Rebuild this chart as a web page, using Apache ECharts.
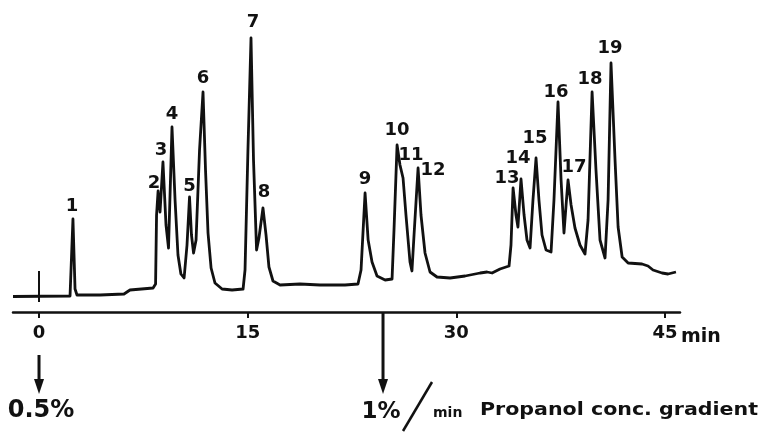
<!DOCTYPE html>
<html>
<head>
<meta charset="utf-8">
<script src="https://cdn.jsdelivr.net/npm/echarts@6/dist/echarts.min.js"></script>
<style>
  html, body { margin: 0; padding: 0; background: #ffffff; }
  #chart { width: 766px; height: 436px; }
</style>
</head>
<body>
<div id="chart"></div>
<script>
// Chromatogram trace: retention time (min) and detector response (arbitrary units)
const traceTime = [
  -1.87, 2.23, 2.34, 2.44, 2.59, 2.73, 4.39, 6.11, 6.54, 8.20,
  8.38, 8.45, 8.56, 8.70, 8.91, 9.13, 9.31, 9.56, 9.78, 9.99,
  10.20, 10.43, 10.64, 10.82, 10.96, 11.11, 11.29, 11.54, 11.79, 11.97,
  12.15, 12.37, 12.65, 13.16, 13.88, 14.67, 14.81, 15.02, 15.24, 15.42,
  15.64, 15.81, 16.10, 16.32, 16.53, 16.82, 17.33, 18.76, 20.20, 22.00,
  22.93, 23.15, 23.44, 23.66, 23.94, 24.30, 24.88, 25.38, 25.52, 25.74,
  25.95, 26.17, 26.38, 26.67, 26.81, 26.96, 27.25, 27.46, 27.75, 28.11,
  28.61, 29.55, 30.63, 31.71, 32.21, 32.57, 33.14, 33.79, 33.93, 34.08,
  34.29, 34.43, 34.65, 34.87, 35.08, 35.30, 35.51, 35.73, 35.94, 36.16,
  36.45, 36.81, 37.02, 37.31, 37.53, 37.74, 37.89, 38.03, 38.25, 38.53,
  38.89, 39.25, 39.47, 39.76, 40.04, 40.33, 40.69, 40.91, 41.12, 41.41,
  41.63, 41.92, 42.35, 43.35, 43.78, 44.14, 44.79, 45.22, 45.79
];
const traceSignal = [
  -0.2, 0.0, 0.8, 30.8, 2.8, 0.4, 0.4, 0.8, 2.4, 3.2,
  4.8, 32.4, 42.0, 33.6, 53.6, 28.4, 19.2, 67.6, 38.4, 16.4,
  8.8, 7.2, 20.4, 39.6, 24.4, 17.2, 22.4, 58.4, 81.6, 50.4,
  25.2, 11.2, 5.2, 2.8, 2.4, 2.8, 10.4, 58.4, 103.2, 54.4,
  18.4, 23.2, 35.2, 24.4, 11.6, 6.0, 4.4, 4.8, 4.4, 4.4,
  4.8, 10.4, 41.2, 22.4, 13.6, 8.0, 6.4, 6.8, 26.4, 60.4,
  52.4, 47.2, 32.4, 13.6, 10.0, 24.4, 51.2, 32.4, 17.2, 9.6,
  7.6, 7.2, 8.0, 9.2, 9.6, 9.2, 10.8, 12.0, 20.4, 43.2,
  32.4, 27.6, 46.8, 32.4, 22.4, 19.2, 38.4, 55.2, 38.4, 24.4,
  18.4, 17.6, 38.4, 77.6, 46.4, 25.2, 36.4, 46.4, 36.4, 27.2,
  20.4, 16.8, 30.4, 81.6, 50.4, 22.4, 15.2, 38.4, 93.2, 54.4,
  27.6, 15.6, 13.2, 12.8, 12.0, 10.4, 9.2, 8.8, 9.6
];

// Numbered peaks (apex time and response)
const peakNames = ['1','2','3','4','5','6','7','8','9','10','11','12','13','14','15','16','17','18','19'];
const peakTime = [2.44, 8.56, 8.91, 9.56, 10.82, 11.79, 15.24, 16.10, 23.44, 25.74,
                  26.17, 27.25, 34.08, 34.65, 35.73, 37.31, 38.03, 39.76, 41.12];
const peakSignal = [30.8, 42.0, 53.6, 67.6, 39.6, 81.6, 103.2, 35.2, 41.2, 60.4,
                    47.2, 51.2, 43.2, 46.8, 55.2, 77.6, 46.4, 81.6, 93.2];

// Time axis ticks (min)
const timeTicks = [0, 15, 30, 45];

// Injection mark and gradient programme steps
const injectionTime = 0;
const gradientTime = [0, 24.73];
const gradientText = ['0.5%', '1%'];

// Label placement around each apex, in pixels
const labelShift = [
  [-1, -13], [-4, -8], [-2, -12], [0, -13], [0, -11], [0, -14], [2, -16], [1, -16],
  [0, -14], [0, -15], [8, -23], [15, 2], [-6, -10], [-3, -21], [-1, -20], [-2, -10],
  [6, -13], [-2, -13], [-1, -15]
];

const ink = '#111111';
const boldFont = 'DejaVu Sans';

const chart = echarts.init(document.getElementById('chart'), null, { renderer: 'canvas' });

chart.setOption({
  animation: false,
  backgroundColor: '#ffffff',
  grid: { left: 13, right: 86, top: 30, bottom: 124 },
  xAxis: {
    type: 'value',
    min: -1.87,
    max: 46.08,
    axisLine: { show: true, onZero: false, lineStyle: { color: ink, width: 2.5 } },
    axisTick: { show: true, customValues: timeTicks, length: 6, lineStyle: { color: ink, width: 2 } },
    axisLabel: {
      show: true, customValues: timeTicks, margin: 12,
      color: ink, fontFamily: boldFont, fontWeight: 'bold', fontSize: 18
    },
    splitLine: { show: false }
  },
  yAxis: {
    type: 'value',
    min: -6.4,
    max: 106.4,
    show: false,
    splitLine: { show: false }
  },
  series: [
    {
      type: 'line',
      data: traceTime.map((t, i) => [t, traceSignal[i]]),
      symbol: 'none',
      smooth: false,
      lineStyle: { color: ink, width: 2.8, join: 'round' },
      z: 3
    },
    {
      type: 'line',
      data: [[injectionTime, -2.4], [injectionTime, 10.0]],
      symbol: 'none',
      lineStyle: { color: ink, width: 2 },
      z: 2
    },
    {
      type: 'scatter',
      data: peakTime.map((t, i) => ({
        value: [t, peakSignal[i]],
        name: peakNames[i],
        label: { offset: labelShift[i] }
      })),
      symbolSize: 1,
      itemStyle: { color: 'rgba(0,0,0,0)', opacity: 1 },
      label: {
        show: true,
        position: 'inside',
        formatter: p => p.name,
        color: ink,
        fontFamily: boldFont,
        fontWeight: 'bold',
        fontSize: 18
      },
      z: 4
    }
  ]
});

// Gradient annotations below the time axis
const axisY = 312;
const px = gradientTime.map(t => chart.convertToPixel({ xAxisIndex: 0 }, t));
const x45 = chart.convertToPixel({ xAxisIndex: 0 }, timeTicks[3]);

function arrow(x, y0) {
  return [
    { type: 'line', shape: { x1: x, y1: y0, x2: x, y2: 382 }, style: { stroke: ink, lineWidth: 3 } },
    { type: 'polygon', shape: { points: [[x - 5, 379], [x + 5, 379], [x, 394]] }, style: { fill: ink } }
  ];
}

chart.setOption({
  graphic: [
    ...arrow(px[0], 355),
    ...arrow(px[1], axisY + 1),
    {
      type: 'text', x: x45 + 16, y: 337,
      style: { text: 'min', font: 'bold 19px ' + boldFont, fill: ink, textAlign: 'left', textVerticalAlign: 'middle' }
    },
    {
      type: 'text', x: px[0] + 2, y: 411,
      style: { text: gradientText[0], font: 'bold 24px ' + boldFont, fill: ink, textAlign: 'center', textVerticalAlign: 'middle' }
    },
    {
      type: 'text', x: px[1] - 2, y: 412,
      style: { text: gradientText[1], font: 'bold 23px ' + boldFont, fill: ink, textAlign: 'center', textVerticalAlign: 'middle' }
    },
    {
      type: 'line', shape: { x1: px[1] + 20, y1: 431, x2: px[1] + 49, y2: 382 },
      style: { stroke: ink, lineWidth: 2.5 }
    },
    {
      type: 'text', x: px[1] + 50, y: 413,
      style: { text: 'min', font: 'bold 14px ' + boldFont, fill: ink, textAlign: 'left', textVerticalAlign: 'middle' }
    },
    {
      type: 'text', x: px[1] + 97, y: 411, scaleX: 1.21,
      style: { text: 'Propanol conc. gradient', font: 'bold 17px ' + boldFont, fill: ink, textAlign: 'left', textVerticalAlign: 'middle' }
    }
  ]
});
</script>
</body>
</html>
